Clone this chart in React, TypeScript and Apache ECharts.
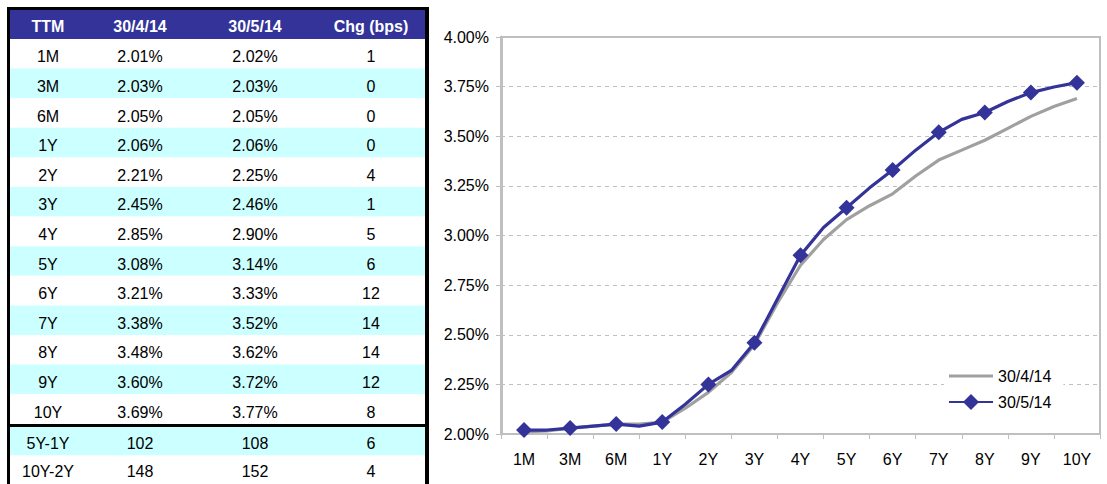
import React, { useEffect, useRef } from "react";
import * as echarts from "echarts";

// Tenors shared by the table and the x axis
const tenors = ["1M", "3M", "6M", "1Y", "2Y", "3Y", "4Y", "5Y", "6Y", "7Y", "8Y", "9Y", "10Y"];

// Yield curve levels (%) at each tenor
const yieldsApr = [2.01, 2.03, 2.05, 2.06, 2.21, 2.45, 2.85, 3.08, 3.21, 3.38, 3.48, 3.6, 3.69];
const yieldsMay = [2.02, 2.03, 2.05, 2.06, 2.25, 2.46, 2.9, 3.14, 3.33, 3.52, 3.62, 3.72, 3.77];

// Curve levels halfway between neighbouring tenors (%)
const midApr = [2.015, 2.04, 2.05, 2.13, 2.31, 2.66, 2.98, 3.15, 3.3, 3.43, 3.54, 3.65];
const midMay = [2.02, 2.04, 2.04, 2.15, 2.32, 2.68, 3.04, 3.24, 3.43, 3.585, 3.675, 3.748];

// Change in bps per tenor
const changeBps = [1, 0, 0, 0, 4, 1, 5, 6, 12, 14, 14, 12, 8];

// Curve spreads (bps)
const spreadNames = ["5Y-1Y", "10Y-2Y"];
const spreadApr = [102, 148];
const spreadMay = [108, 152];
const spreadChg = [6, 4];

const headers = ["TTM", "30/4/14", "30/5/14", "Chg (bps)"];
const yTicks = { min: 2, max: 4, step: 0.25 };

const FONT = "Liberation Sans, Arial, Helvetica, sans-serif";
const NAVY = "#333399";
const CYAN = "#CCFFFF";
const GREY_LINE = "#A0A0A0";
const AXIS_GREY = "#BFBFBF";

function curve(main: number[], mid: number[], withMarkers: boolean) {
  const out: any[] = [];
  main.forEach((v, i) => {
    out.push({ value: [i + 0.5, v] });
    if (i < mid.length) {
      out.push(withMarkers ? { value: [i + 1, mid[i]], symbol: "none" } : { value: [i + 1, mid[i]] });
    }
  });
  return out;
}

function tableGraphics() {
  const els: any[] = [];
  const colX = [48, 140, 255, 371];
  const left = 10;
  const width = 415;
  const headTop = 10;
  const headH = 29;
  const rowTop = 39;
  const rowH = 29.6;

  const txt = (text: string, x: number, y: number, bold = false, fill = "#000") => ({
    type: "text",
    style: {
      text,
      x,
      y,
      fill,
      align: "center",
      verticalAlign: "middle",
      fontFamily: FONT,
      fontSize: 16,
      fontWeight: bold ? "bold" : "normal",
    },
  });

  // header band
  els.push({ type: "rect", shape: { x: left, y: headTop, width, height: headH }, style: { fill: NAVY } });
  headers.forEach((h, c) => els.push(txt(h, colX[c], headTop + headH / 2 + 2, true, "#fff")));

  // tenor rows
  tenors.forEach((t, i) => {
    const y0 = rowTop + i * rowH;
    els.push({
      type: "rect",
      shape: { x: left, y: y0, width, height: rowH },
      style: { fill: i % 2 === 1 ? CYAN : "#fff" },
    });
    const cy = y0 + rowH / 2 + 3;
    els.push(txt(t, colX[0], cy));
    els.push(txt(yieldsApr[i].toFixed(2) + "%", colX[1], cy));
    els.push(txt(yieldsMay[i].toFixed(2) + "%", colX[2], cy));
    els.push(txt(String(changeBps[i]), colX[3], cy));
  });

  // spread rows
  const spreadTop = 427;
  const spreadH = 28.5;
  spreadNames.forEach((n, i) => {
    const y0 = spreadTop + i * spreadH;
    els.push({
      type: "rect",
      shape: { x: left, y: y0, width, height: spreadH + (i === 1 ? 4 : 0) },
      style: { fill: i === 0 ? CYAN : "#fff" },
    });
    const cy = y0 + spreadH / 2 + 2;
    els.push(txt(n, colX[0], cy));
    els.push(txt(String(spreadApr[i]), colX[1], cy));
    els.push(txt(String(spreadMay[i]), colX[2], cy));
    els.push(txt(String(spreadChg[i]), colX[3], cy));
  });

  // black frame and separator
  const black = { fill: "#000" };
  els.push({ type: "rect", shape: { x: 7, y: 7, width: 422, height: 3 }, style: black });
  els.push({ type: "rect", shape: { x: 7, y: 7, width: 3, height: 480 }, style: black });
  els.push({ type: "rect", shape: { x: 425, y: 7, width: 4, height: 480 }, style: black });
  els.push({ type: "rect", shape: { x: 7, y: 424, width: 422, height: 3 }, style: black });
  return els;
}

export default function App() {
  const ref = useRef<HTMLDivElement>(null);

  useEffect(() => {
    if (!ref.current) return;
    const chart = echarts.init(ref.current, undefined, { renderer: "svg" });
    chart.setOption({
      animation: false,
      backgroundColor: "#fff",
      textStyle: { fontFamily: FONT },
      grid: {
        left: 501,
        right: 7,
        top: 37,
        bottom: 50,
        show: true,
        borderColor: AXIS_GREY,
        borderWidth: 2,
        backgroundColor: "#fff",
      },
      legend: {
        orient: "vertical",
        left: 944,
        top: 364,
        itemWidth: 44,
        itemHeight: 20,
        itemGap: 10,
        padding: [4, 12, 4, 4],
        backgroundColor: "#fff",
        textStyle: { fontSize: 16, color: "#000", fontFamily: FONT },
        data: [
          { name: "30/4/14", icon: "path://M0,0H44V3H0Z" },
          { name: "30/5/14" },
        ],
      },
      xAxis: [
        {
          type: "category",
          data: tenors,
          boundaryGap: true,
          axisLine: { lineStyle: { color: AXIS_GREY, width: 2 } },
          axisTick: { show: true, interval: 0, length: 5, lineStyle: { color: AXIS_GREY, width: 1 } },
          axisLabel: { interval: 0, fontSize: 16, color: "#000", margin: 17, fontFamily: FONT },
          splitLine: { show: false },
        },
        {
          type: "value",
          min: 0,
          max: tenors.length,
          show: false,
          splitLine: { show: false },
        },
      ],
      yAxis: {
        type: "value",
        min: yTicks.min,
        max: yTicks.max,
        interval: yTicks.step,
        axisLine: { show: true, lineStyle: { color: AXIS_GREY, width: 3 } },
        axisTick: { show: true, length: 5, lineStyle: { color: AXIS_GREY } },
        axisLabel: {
          fontSize: 16,
          color: "#000",
          margin: 12,
          fontFamily: FONT,
          formatter: (v: number) => v.toFixed(2) + "%",
        },
        splitLine: { show: true, lineStyle: { color: AXIS_GREY, type: [4, 4], width: 1 } },
      },
      series: [
        {
          name: "30/4/14",
          type: "line",
          xAxisIndex: 1,
          data: curve(yieldsApr, midApr, false),
          symbol: "none",
          lineStyle: { color: GREY_LINE, width: 3.2 },
          itemStyle: { color: GREY_LINE },
          z: 2,
        },
        {
          name: "30/5/14",
          type: "line",
          xAxisIndex: 1,
          data: curve(yieldsMay, midMay, true),
          symbol: "diamond",
          symbolSize: 16,
          showAllSymbol: true,
          lineStyle: { color: NAVY, width: 3.2 },
          itemStyle: { color: NAVY },
          z: 3,
        },
      ],
      graphic: tableGraphics(),
    });
    return () => chart.dispose();
  }, []);

  return (
    <div
      ref={ref}
      style={{ position: "fixed", left: 0, top: 0, width: 1107, height: 484, background: "#fff" }}
    />
  );
}
